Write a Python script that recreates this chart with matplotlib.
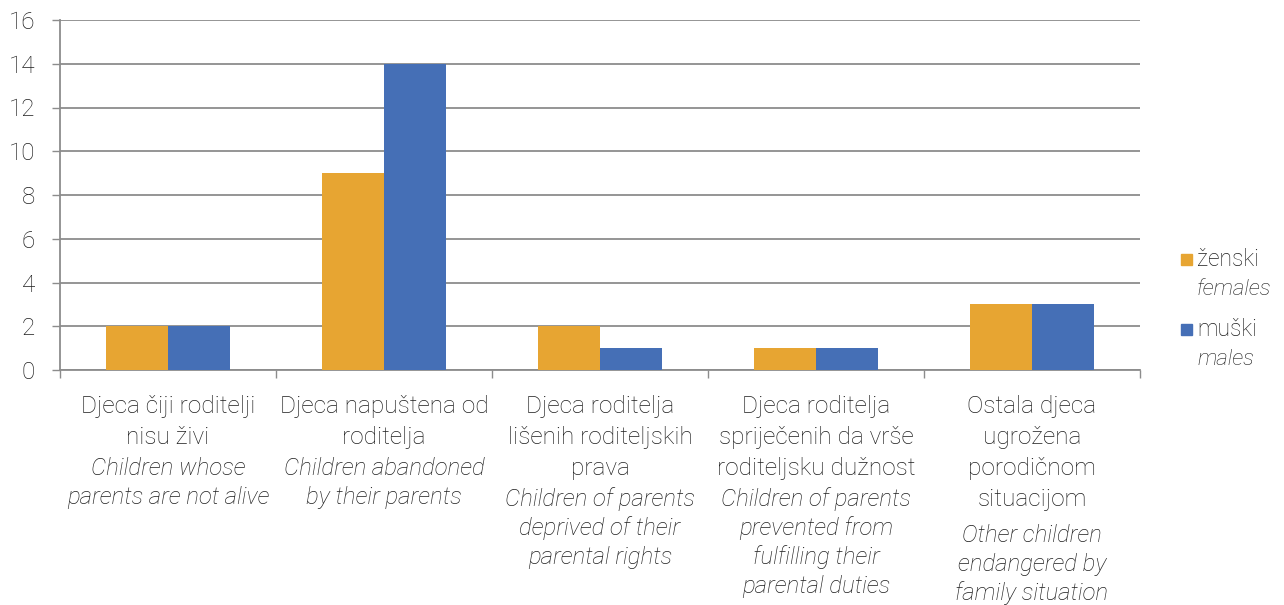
import matplotlib
matplotlib.use("Agg")
import matplotlib.pyplot as plt
from matplotlib.patches import Rectangle

# data
categories_hr = [
    "Djeca čiji roditelji\nnisu živi",
    "Djeca napuštena od\nroditelja",
    "Djeca roditelja\nlišenih roditeljskih\nprava",
    "Djeca roditelja\nspriječenih da vrše\nroditeljsku dužnost",
    "Ostala djeca\nugrožena\nporodičnom\nsituacijom",
]
categories_en = [
    "Children whose\nparents are not alive",
    "Children abandoned\nby their parents",
    "Children of parents\ndeprived of their\nparental rights",
    "Children of parents\nprevented from\nfulfilling their\nparental duties",
    "Other children\nendangered by\nfamily situation",
]
females = [2, 9, 2, 1, 3]
males = [2, 14, 1, 1, 3]
series_hr = ["ženski", "muški"]
series_en = ["females", "males"]
yticks = [0, 2, 4, 6, 8, 10, 12, 14, 16]

c_f = "#E7A532"
c_m = "#456FB6"
grid_c = "#8c8c8c"
txt_c = "#1e1e1e"
plt.rcParams["font.family"] = ["Roboto", "DejaVu Sans"]

W, H = 1284, 605
fig = plt.figure(figsize=(W / 100, H / 100), dpi=100)
x0, x1, ytop, ybot = 60, 1140, 20, 370  # pixel frame of the plot area
ax = fig.add_axes([x0 / W, 1 - ybot / H, (x1 - x0) / W, (ybot - ytop) / H])

n = len(females)
xs = list(range(n))
bw = 0.285
ax.bar([x - bw / 2 for x in xs], females, width=bw, color=c_f, zorder=3)
ax.bar([x + bw / 2 for x in xs], males, width=bw, color=c_m, zorder=3)

ax.set_xlim(-0.5, n - 0.5)
ax.set_ylim(0, 16)
ax.set_yticks(yticks)
ax.yaxis.grid(True, color=grid_c, linewidth=1.3, zorder=0)
ax.tick_params(axis="y", length=6, width=1.0, color=grid_c, pad=12,
               labelsize=17.5, labelcolor=txt_c)
for t in ax.get_yticklabels():
    t.set_fontweight("light")

ax.set_xticks([])
ax.set_xticks([x - 0.5 for x in range(n + 1)], minor=True)
ax.tick_params(axis="x", which="minor", length=6, width=1.0, color=grid_c)
for s in ["top", "right"]:
    ax.spines[s].set_visible(False)
for s in ["left", "bottom"]:
    ax.spines[s].set_color(grid_c)
    ax.spines[s].set_linewidth(1.3)

# category labels: Croatian lines, then English italic lines
pt = 0.72  # points per pixel at 100 dpi
for i in xs:
    base = 413
    hr = categories_hr[i].split("\n")
    for line in hr:
        ax.annotate(line, xy=(i, 0), xycoords=("data", "axes fraction"),
                    xytext=(0, -(base - ybot) * pt), textcoords="offset points",
                    ha="center", va="baseline", fontsize=17.6, fontweight="light",
                    color=txt_c)
        base += 31
    if len(hr) == 4:
        base += 5
    for line in categories_en[i].split("\n"):
        ax.annotate(line, xy=(i, 0), xycoords=("data", "axes fraction"),
                    xytext=(0, -(base - ybot) * pt), textcoords="offset points",
                    ha="center", va="baseline", fontsize=17.3, fontweight="light",
                    style="italic", color=txt_c)
        base += 29

# legend
for k, (col, lhr, len_) in enumerate(zip([c_f, c_m], series_hr, series_en)):
    ytop_sq = 254 + 70 * k
    fig.patches.append(Rectangle((1181 / W, 1 - (ytop_sq + 11) / H), 11 / W, 11 / H,
                                 transform=fig.transFigure, color=col))
    fig.text(1197 / W, 1 - (ytop_sq + 12) / H, lhr, fontsize=16.5, fontweight="light",
             color=txt_c, va="baseline")
    fig.text(1197 / W, 1 - (ytop_sq + 41) / H, len_, fontsize=16, fontweight="light",
             style="italic", color=txt_c, va="baseline")

fig.savefig("out.png", dpi=100)
